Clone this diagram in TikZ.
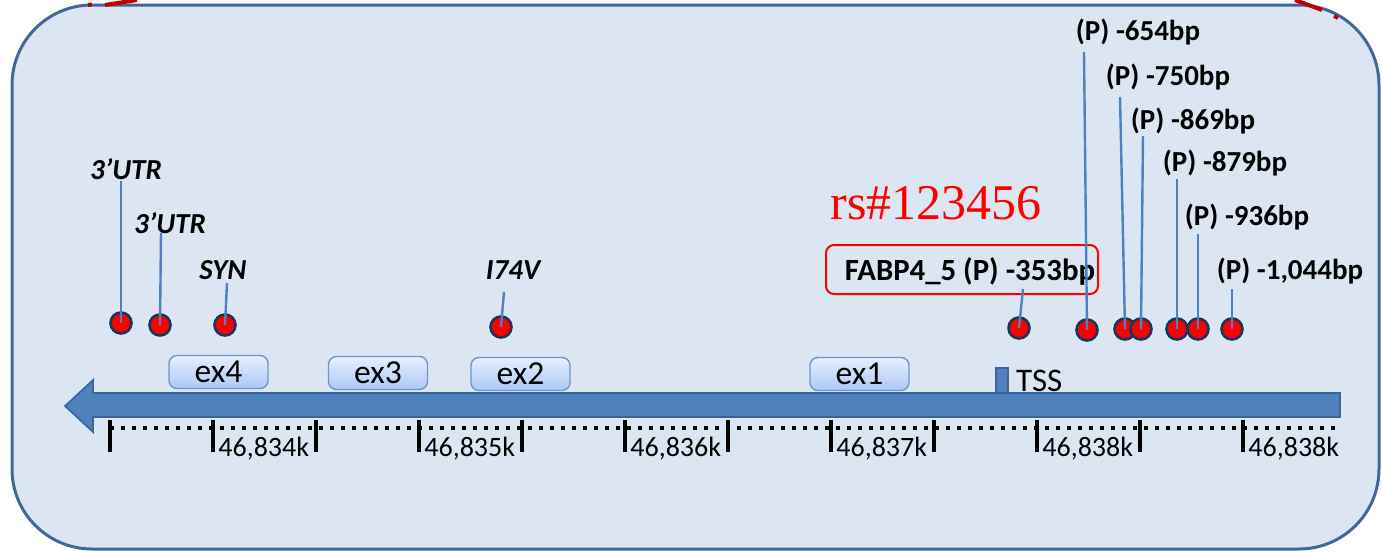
\documentclass[tikz,border=0pt]{standalone}
\usepackage{fontspec}
\setmainfont{Carlito}
\newfontfamily\rsfont{Liberation Serif}
\usetikzlibrary{positioning, calc}

\definecolor{panelfill}{HTML}{DCE6F2}
\definecolor{panelline}{HTML}{41689A}
\definecolor{geneblue}{HTML}{4F81BD}
\definecolor{genedark}{HTML}{3A6596}
\definecolor{extop}{HTML}{E6EFFF}
\definecolor{exbot}{HTML}{ADC8F4}
\definecolor{exline}{HTML}{6E96CC}
\definecolor{snpline}{HTML}{17375E}
\definecolor{stemblue}{HTML}{4F81BD}
\definecolor{fragred}{HTML}{C00000}

\begin{document}
\begin{tikzpicture}[
        x=0.5pt, y=-0.5pt,
        panel/.style={draw=panelline, line width=1.5pt, fill=panelfill, rounded corners=40pt},
        gene/.style={draw=genedark, line width=0.8pt, fill=geneblue},
        exon/.style={rectangle, draw=exline, line width=0.7pt, rounded corners=4pt, top color=extop, bottom color=exbot, minimum width=49.5pt, minimum height=16.5pt, inner sep=0pt, font=\fontsize{16.8}{18}\selectfont},
        tssbox/.style={rectangle, draw=genedark, line width=0.7pt, fill=geneblue, minimum width=6pt, minimum height=12.5pt, inner sep=0pt},
        snp/.style={circle, draw=snpline, line width=1.3pt, fill=red, minimum size=10.5pt, inner sep=0pt},
        stem/.style={draw=stemblue, line width=1.2pt},
        plabel/.style={font=\bfseries\fontsize{14.5}{16}\selectfont, inner sep=0pt},
        vlabel/.style={font=\bfseries\itshape\fontsize{14.5}{16}\selectfont, inner sep=0pt},
        ruler/.style={line width=2.2pt, dash pattern=on 2.2pt off 3.3pt},
        majortick/.style={line width=2pt, black},
        ticklabel/.style={anchor=west, font=\fontsize{14}{16}\selectfont, inner sep=0pt},
        rsbox/.style={rectangle, draw=red, line width=1pt, rounded corners=4pt, minimum width=136pt, minimum height=24.5pt},
        redfrag/.style={draw=fragred, line width=2pt}
    ]
    \useasboundingbox (0,0) rectangle (1382,552);

    % Panel
    \draw[panel] (12,5) rectangle (1379,549);
    \draw[redfrag] (88,5) -- (92,4.5) (105,5) -- (137,0) (1295,0) -- (1322,10) (1334,16) -- (1338,18);

    % Gene and ruler
    \draw[gene] (1340,393) -- (93,393) -- (93,380) -- (65,406) -- (93,432) -- (93,417) -- (1340,417) -- cycle;
    \draw[ruler] (110,428) -- (1340,428);
    \foreach \i in {0,...,11}
        \draw[majortick] (110+103*\i,420) -- ++(0,32);
    \foreach \i/\t in {1/{46,834k}, 3/{46,835k}, 5/{46,836k}, 7/{46,837k}, 9/{46,838k}, 11/{46,838k}}
        \node[ticklabel] (tick\i) at (115+103*\i,449) {\t};

    % Exons
    \node[exon] (ex4) at (218.5,372) {ex4};
    \node[exon] (ex3) at (378,373) {ex3};
    \node[exon] (ex2) at (520.5,374) {ex2};
    \node[exon] (ex1) at (859.5,374) {ex1};
    \node[tssbox] (tss) at (1002,380.5) {};
    \node[right=3.5pt of tss, inner sep=0pt, font=\fontsize{16.5}{18}\selectfont] (tsslabel) {TSS};

    % SNPs
    \foreach \n/\x/\y in {utra/121/323, utrb/160/325, syn/225/325, iv/501/327, f353/1019/328, p654/1087/330, p750/1125/329, p869/1141/329, p879/1177/329, p936/1198/329, p1044/1232/329}
        \node[snp] (d\n) at (\x,\y) {};

    % Labels
    \node[vlabel] (lutra) at (126,169) {3’UTR};
    \node[vlabel] (lutrb) at (170,223) {3’UTR};
    \node[vlabel] (lsyn) at (223,270) {SYN};
    \node[vlabel] (liv) at (513,270) {I74V};
    \node[rsbox] (box353) at (962,269.5) {};
    \node[plabel, font=\bfseries\fontsize{15.4}{17}\selectfont] (lf353) at (970,271) {FABP4\_5 (P) -353bp};
    \node[plabel] (lp654) at (1138,32) {(P) -654bp};
    \node[plabel] (lp750) at (1168,77) {(P) -750bp};
    \node[plabel] (lp869) at (1193,121) {(P) -869bp};
    \node[plabel] (lp879) at (1225,163) {(P) -879bp};
    \node[plabel] (lp936) at (1247,217) {(P) -936bp};
    \node[plabel] (lp1044) at (1290,271) {(P) -1,044bp};
    \node[inner sep=0pt, text=red, font=\rsfont\fontsize{25}{28}\selectfont] (rs) at (936,203) {rs\#123456};

    % Stems
    \foreach \n/\x/\y in {utra/121/181, utrb/161/233, syn/227/283, iv/504/292, f353/1023/289, p654/1084/52, p750/1120/97, p869/1143/136, p879/1177/179, p936/1198/234, p1044/1232/289}
    {
        \coordinate (t\n) at (\x,\y);
        \draw[stem] (d\n.center) -- (t\n);
    }

\end{tikzpicture}
\end{document}
